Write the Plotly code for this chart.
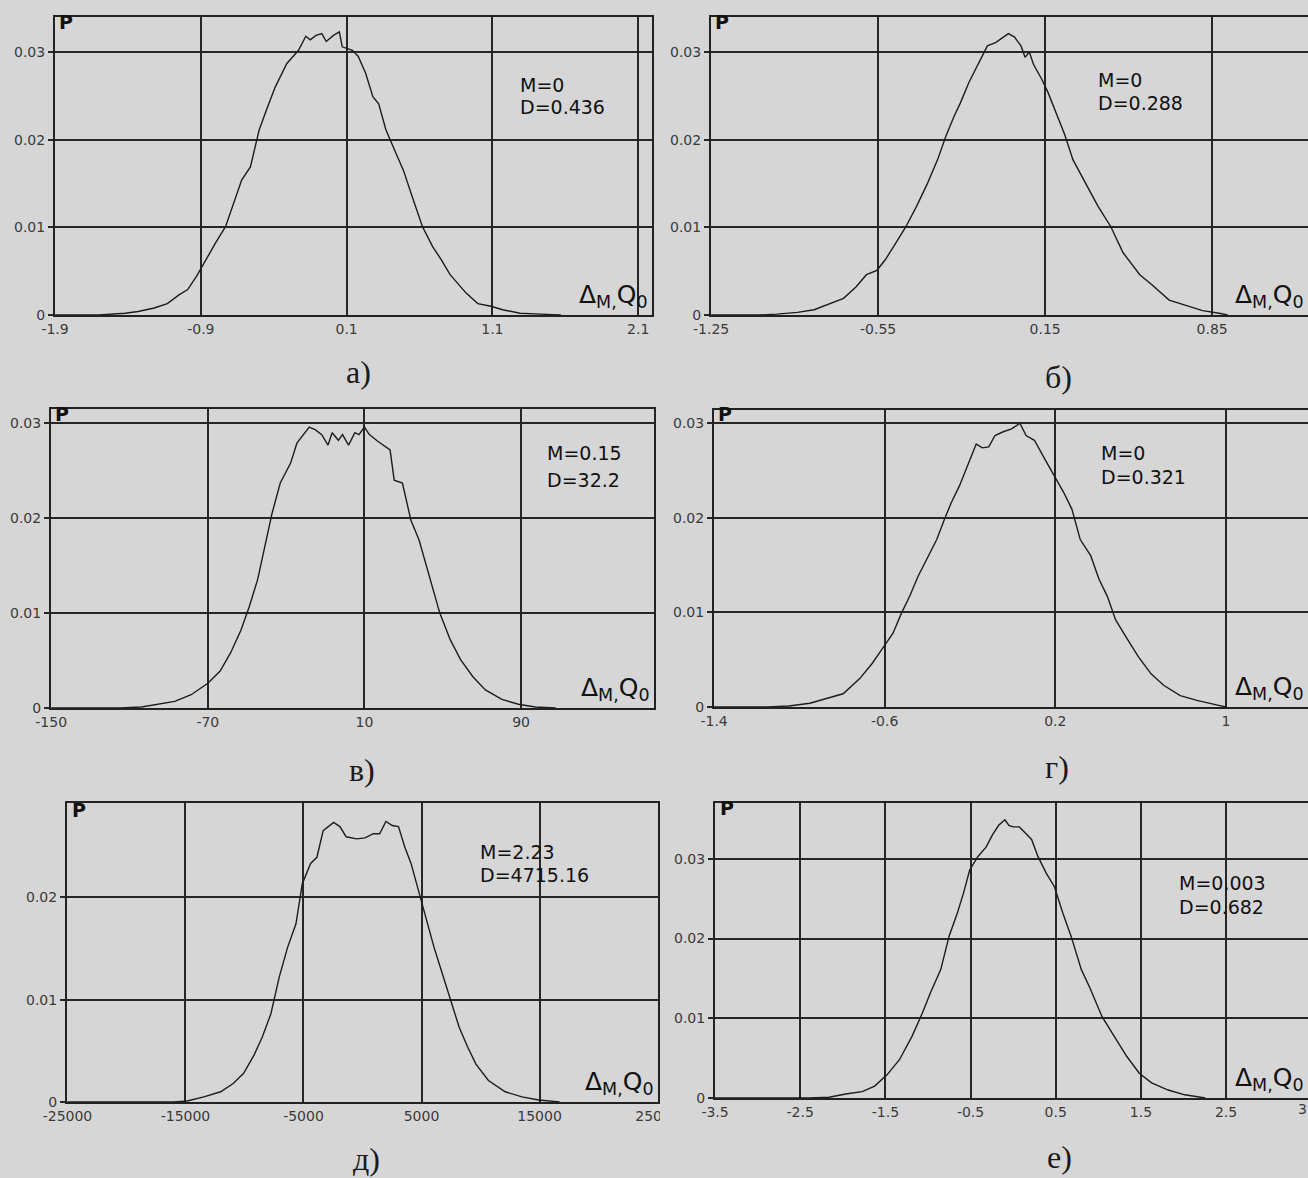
import plotly.graph_objects as go

W, H = 1308, 1178
BG = "#d6d6d6"
INK = "#1c1c1c"

# ---------------- data ----------------
# panel а)
a_x = [-1.9, -1.6, -1.42, -1.33, -1.22, -1.13, -1.05, -0.99, -0.93, -0.88, -0.80, -0.73, -0.68, -0.62,
       -0.56, -0.50, -0.45, -0.39, -0.31, -0.23, -0.18, -0.15, -0.11, -0.07, -0.04, 0.01, 0.05, 0.07,
       0.14, 0.18, 0.23, 0.28, 0.32, 0.37, 0.44, 0.49, 0.55, 0.62, 0.69, 0.75, 0.81, 0.86, 0.92, 1.00,
       1.09, 1.17, 1.29, 1.43, 1.57]
a_p = [0.0, 0.0, 0.0002, 0.0004, 0.0008, 0.0013, 0.0023, 0.0029, 0.0044, 0.0059, 0.0082, 0.0101, 0.0124,
       0.0154, 0.0169, 0.0211, 0.0234, 0.0260, 0.0287, 0.0302, 0.0318, 0.0314, 0.0319, 0.0321, 0.0312,
       0.0319, 0.0323, 0.0306, 0.0302, 0.0295, 0.0276, 0.0249, 0.0241, 0.0211, 0.0184, 0.0165, 0.0135,
       0.0101, 0.0078, 0.0063, 0.0046, 0.0036, 0.0025, 0.0013, 0.0010, 0.0006, 0.0002, 0.0001, 0.0]

# panel б)
b_x = [-1.25, -1.05, -0.975, -0.888, -0.818, -0.748, -0.695, -0.643, -0.599, -0.555, -0.520, -0.476,
       -0.433, -0.389, -0.345, -0.301, -0.266, -0.231, -0.205, -0.170, -0.126, -0.092, -0.056, -0.030,
       -0.004, 0.022, 0.049, 0.066, 0.084, 0.101, 0.136, 0.162, 0.197, 0.232, 0.267, 0.320, 0.372, 0.425,
       0.477, 0.547, 0.600, 0.670, 0.740, 0.810, 0.880, 0.915]
b_p = [0.0, 0.0, 0.0001, 0.0003, 0.0006, 0.0013, 0.0019, 0.0032, 0.0046, 0.0051, 0.0063, 0.0082, 0.0101,
       0.0124, 0.0149, 0.0177, 0.0204, 0.0227, 0.0242, 0.0265, 0.0288, 0.0307, 0.0311, 0.0316, 0.0321,
       0.0317, 0.0307, 0.0294, 0.0300, 0.0286, 0.0269, 0.0254, 0.0231, 0.0206, 0.0177, 0.0151, 0.0124,
       0.0101, 0.0071, 0.0046, 0.0034, 0.0017, 0.0011, 0.0005, 0.0002, 0.0]

# panel в)
c_x = [-150, -115, -103.9, -95.4, -86.9, -78.5, -70.0, -63.7, -58.4, -53.1, -48.8, -44.6, -40.4, -37.2,
       -33.0, -27.7, -24.5, -21.3, -18.2, -15.0, -11.8, -8.6, -6.5, -3.3, -1.2, 1.9, 5.1, 7.2, 10.0, 12.5,
       16.8, 23.1, 25.2, 29.4, 33.7, 37.9, 42.1, 48.5, 53.8, 59.1, 65.4, 71.8, 80.2, 88.7, 97.2, 107.7]
c_p = [0.0, 0.0, 0.0001, 0.0004, 0.0007, 0.0014, 0.0026, 0.0039, 0.0058, 0.0082, 0.0107, 0.0135, 0.0174,
       0.0205, 0.0237, 0.0258, 0.0279, 0.0288, 0.0296, 0.0293, 0.0288, 0.0277, 0.0290, 0.0282, 0.0288,
       0.0277, 0.0290, 0.0288, 0.0296, 0.0288, 0.0281, 0.0272, 0.0240, 0.0237, 0.0198, 0.0177, 0.0146,
       0.0100, 0.0072, 0.0051, 0.0033, 0.0019, 0.0009, 0.0004, 0.0001, 0.0]

# panel г)
d_x = [-1.4, -1.15, -1.049, -0.951, -0.873, -0.795, -0.717, -0.659, -0.610, -0.561, -0.522, -0.483,
       -0.444, -0.405, -0.356, -0.317, -0.288, -0.249, -0.210, -0.171, -0.142, -0.112, -0.083, -0.044,
       -0.005, 0.034, 0.063, 0.102, 0.151, 0.200, 0.239, 0.278, 0.317, 0.366, 0.405, 0.444, 0.483, 0.532,
       0.590, 0.649, 0.708, 0.786, 0.864, 0.961, 1.0]
d_p = [0.0, 0.0, 0.0001, 0.0004, 0.0009, 0.0014, 0.0030, 0.0046, 0.0062, 0.0078, 0.0099, 0.0117, 0.0138,
       0.0156, 0.0177, 0.0200, 0.0216, 0.0234, 0.0255, 0.0278, 0.0274, 0.0275, 0.0287, 0.0291, 0.0294,
       0.0300, 0.0287, 0.0282, 0.0262, 0.0243, 0.0227, 0.0209, 0.0177, 0.0160, 0.0135, 0.0117, 0.0092,
       0.0074, 0.0053, 0.0035, 0.0023, 0.0012, 0.0007, 0.0002, 0.0]

# panel д)
e_x = [-25000, -16000, -14858, -13440, -12021, -10957, -10071, -9184, -8475, -7766, -7057, -6348, -5638,
       -5106, -4397, -3865, -3333, -2447, -1915, -1383, -497, 213, 922, 1454, 1986, 2518, 3050, 3581,
       4113, 4822, 5354, 6063, 6773, 7482, 8191, 8900, 9610, 10673, 12092, 13510, 14929, 16702]
e_p = [0.0, 0.0, 0.0001, 0.0005, 0.0010, 0.0018, 0.0028, 0.0046, 0.0064, 0.0086, 0.0122, 0.0151, 0.0174,
       0.0213, 0.0233, 0.0239, 0.0265, 0.0273, 0.0269, 0.0259, 0.0257, 0.0258, 0.0262, 0.0262, 0.0274,
       0.0270, 0.0269, 0.0249, 0.0233, 0.0204, 0.0181, 0.0151, 0.0125, 0.0099, 0.0073, 0.0054, 0.0037,
       0.0021, 0.0010, 0.0005, 0.0002, 0.0]

# panel е)
f_x = [-3.5, -2.4, -2.160, -1.966, -1.772, -1.626, -1.481, -1.335, -1.189, -1.068, -0.971, -0.850, -0.752,
       -0.655, -0.583, -0.510, -0.413, -0.316, -0.243, -0.170, -0.097, -0.049, 0.000, 0.073, 0.146, 0.218,
       0.291, 0.388, 0.485, 0.583, 0.680, 0.801, 0.898, 1.044, 1.189, 1.335, 1.481, 1.626, 1.820, 2.015,
       2.257]
f_p = [0.0, 0.0, 0.0001, 0.0005, 0.0008, 0.0015, 0.0029, 0.0048, 0.0077, 0.0106, 0.0132, 0.0161, 0.0203,
       0.0232, 0.0257, 0.0286, 0.0303, 0.0315, 0.0330, 0.0342, 0.0349, 0.0342, 0.0340, 0.0340, 0.0332,
       0.0324, 0.0303, 0.0282, 0.0265, 0.0232, 0.0203, 0.0161, 0.0139, 0.0102, 0.0077, 0.0052, 0.0031,
       0.0019, 0.0010, 0.0004, 0.0]

# tick labels
a_ticks = [-1.9, -0.9, 0.1, 1.1, 2.1]
b_ticks = [-1.25, -0.55, 0.15, 0.85]
c_ticks = [-150, -70, 10, 90]
d_ticks = [-1.4, -0.6, 0.2, 1]
e_ticks = [-25000, -15000, -5000, 5000, 15000, 25000]
f_ticks = [-3.5, -2.5, -1.5, -0.5, 0.5, 1.5, 2.5]
p_ticks3 = [0, 0.01, 0.02, 0.03]
p_ticks2 = [0, 0.01, 0.02]

captions = ["а)", "б)", "в)", "г)", "д)", "е)"]
stats_m = ["M=0", "M=0", "M=0.15", "M=0", "M=2.23", "M=0.003"]
stats_d = ["D=0.436", "D=0.288", "D=32.2", "D=0.321", "D=4715.16", "D=0.682"]

# ---------------- layout geometry (pixels) ----------------
panels = [
    dict(x=a_x, y=a_p, xt=a_ticks, yt=p_ticks3, box=(55, 652, 17, 315), xr=[-1.9005, 2.195], yr=[0, 0.0340],
         stat=(518, 85, 107), cap=(358, 372), plab=(57, 22)),
    dict(x=b_x, y=b_p, xt=b_ticks, yt=p_ticks3, box=(711, 1308, 17, 315), xr=[-1.2505, 1.252], yr=[0, 0.0340],
         stat=(1096, 80, 103), cap=(1058, 377), plab=(713, 22)),
    dict(x=c_x, y=c_p, xt=c_ticks, yt=p_ticks3, box=(51, 654, 409, 708), xr=[-150.1, 157.9], yr=[0, 0.0315],
         stat=(545, 453, 480), cap=(362, 770), plab=(53, 414)),
    dict(x=d_x, y=d_p, xt=d_ticks, yt=p_ticks3, box=(714, 1308, 410, 707), xr=[-1.4005, 1.385], yr=[0, 0.0314],
         stat=(1099, 453, 477), cap=(1057, 767), plab=(716, 414)),
    dict(x=e_x, y=e_p, xt=e_ticks, yt=p_ticks2, box=(67, 658, 803, 1102), xr=[-25040, 25040], yr=[0, 0.0292],
         stat=(478, 852, 875), cap=(366, 1159), plab=(70, 810)),
    dict(x=f_x, y=f_p, xt=f_ticks, yt=p_ticks3, box=(715, 1308, 803, 1098), xr=[-3.5005, 3.462], yr=[0, 0.0370],
         stat=(1177, 883, 907), cap=(1059, 1157), plab=(718, 808)),
]


def px(v):
    return v / W


def py(v):
    return 1 - v / H


def fmt(v):
    return "%g" % v


fig = go.Figure()
annotations = []
shapes = []
TICKFONT = dict(family="DejaVu Sans", size=14, color="#3a3a3a")

for i, p in enumerate(panels):
    n = "" if i == 0 else str(i + 1)
    l, r, t, b = p["box"]
    fig.add_trace(go.Scatter(x=p["x"], y=p["y"], mode="lines", line=dict(color=INK, width=1.4),
                             xaxis="x" + n, yaxis="y" + n, showlegend=False, hoverinfo="skip"))
    axcommon = dict(showline=True, linecolor="#222222", linewidth=2, mirror=True,
                    showgrid=True, gridcolor="#262626", gridwidth=1.8, zeroline=False,
                    tickfont=TICKFONT, fixedrange=True, automargin=False)
    fig.update_layout(**{
        "xaxis" + n: dict(domain=[px(l), min(px(r), 1.0)], range=p["xr"], anchor="y" + n,
                          tickvals=p["xt"], ticktext=[fmt(v) for v in p["xt"]], ticks="", **axcommon),
        "yaxis" + n: dict(domain=[py(b), py(t)], range=p["yr"], anchor="x" + n,
                          tickvals=p["yt"], ticktext=[fmt(v) for v in p["yt"]], ticks="outside",
                          ticklen=5, tickcolor="#262626", tickwidth=1.6, **axcommon),
    })
    sx, sy1, sy2 = p["stat"]
    for txt, yy in ((stats_m[i], sy1), (stats_d[i], sy2)):
        annotations.append(dict(x=px(sx), y=py(yy), xref="paper", yref="paper", text=txt, showarrow=False,
                                xanchor="left", yanchor="middle",
                                font=dict(family="DejaVu Sans", size=19, color="#111111")))
    cx, cy = p["cap"]
    annotations.append(dict(x=px(cx), y=py(cy), xref="paper", yref="paper", text=captions[i], showarrow=False,
                            xanchor="center", yanchor="middle",
                            font=dict(family="Liberation Serif", size=32, color="#1a1a1a")))
    plx, ply = p["plab"]
    annotations.append(dict(x=px(plx), y=py(ply), xref="paper", yref="paper", text="<b>P</b>", showarrow=False,
                            xanchor="left", yanchor="middle",
                            font=dict(family="DejaVu Sans", size=19, color="#111111")))
    annotations.append(dict(x=px(min(r, 1308) - 2), y=py(b - 1), xref="paper", yref="paper",
                            text="Δ<sub>M,</sub>Q<sub>0</sub>", showarrow=False,
                            xanchor="right", yanchor="bottom",
                            font=dict(family="DejaVu Sans", size=25, color="#111111")))

# last tick of panel е) runs off the page edge
annotations.append(dict(x=px(1296), y=py(1109), xref="paper", yref="paper", text="3.5", showarrow=False,
                        xanchor="left", yanchor="middle", font=TICKFONT))
# the right end of panel д)'s last tick label is cut off by the page gutter
shapes.append(dict(type="rect", xref="paper", yref="paper", x0=px(660), x1=px(690), y0=py(1126), y1=py(1104),
                   fillcolor=BG, line=dict(width=0), layer="above"))

fig.update_layout(width=W, height=H, margin=dict(l=0, r=0, t=0, b=0),
                  paper_bgcolor=BG, plot_bgcolor=BG, annotations=annotations, shapes=shapes,
                  font=dict(family="DejaVu Sans"))

fig.write_html("out.html", config={"displayModeBar": False},
               post_script="document.body.style.margin='0';document.body.style.background='%s';" % BG)
